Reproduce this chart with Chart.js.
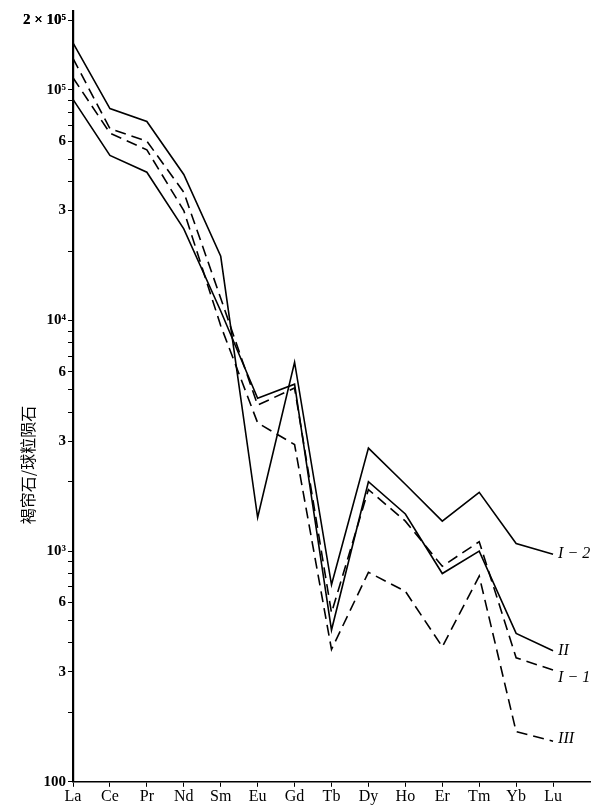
<!DOCTYPE html>
<html>
<head>
<meta charset="utf-8">
<script src="https://cdn.jsdelivr.net/npm/chart.js@4.4.1/dist/chart.umd.min.js"></script>
<style>
  html, body { margin: 0; padding: 0; background: #fff; }
  #wrap { width: 594px; height: 808px; position: relative; }
</style>
</head>
<body>
<div id="wrap"><canvas id="reeChart"></canvas></div>
<script>
// REE elements on the x axis
const elements = ["La", "Ce", "Pr", "Nd", "Sm", "Eu", "Gd", "Tb", "Dy", "Ho", "Er", "Tm", "Yb", "Lu"];

// allanite / chondrite
const seriesI2  = [160000, 83000, 73000, 43000, 19000, 1400, 6600, 715, 2800, 1950, 1350, 1800, 1080, 970];
const seriesII  = [91000, 52000, 44000, 25000, 11000, 4600, 5300, 455, 2000, 1450, 800, 1000, 440, 370];
const seriesI1  = [137000, 68000, 60000, 36000, 12500, 4300, 5100, 540, 1850, 1350, 860, 1100, 345, 305];
const seriesIII = [113000, 65000, 55000, 30000, 9500, 3600, 2900, 375, 810, 670, 385, 780, 165, 150];

const seriesNames = ["I − 2", "II", "I − 1", "III"];

// labelled ticks on the log axis
const yTickValues = [200000, 100000, 60000, 30000, 10000, 6000, 3000, 1000, 600, 300, 100];
const yTickLabels = ["2 × 10⁵", "10⁵", "6", "3", "10⁴", "6", "3", "10³", "6", "3", "100"];

const yTitle = "褐帘石/球粒陨石";

const serif = "'Liberation Serif', 'DejaVu Serif', serif";

// minor tick marks 1..9 per decade
const minorTicks = [];
for (let d = 100; d <= 100000; d *= 10) {
    for (let m = 1; m <= 9; m++) {
        if (d * m <= 200000) minorTicks.push(d * m);
    }
}
minorTicks.push(200000);

function tickLabel(v) {
    const i = yTickValues.findIndex(t => Math.abs(t - v) / t < 0.001);
    return i >= 0 ? yTickLabels[i] : "";
}

const lineStyle = (data, dashed) => ({
    data: data,
    borderColor: "#000",
    borderWidth: 1.6,
    borderDash: dashed ? [11, 6] : [],
    pointRadius: 0,
    fill: false,
    tension: 0
});

// series names beside the line ends and the rotated y title
const textPlugin = {
    id: "textPlugin",
    afterDraw(chart) {
        const ctx = chart.ctx;
        ctx.save();
        ctx.fillStyle = "#000";
        ctx.font = "italic 16px " + serif;
        ctx.textBaseline = "middle";
        ctx.textAlign = "left";
        const nudge = [0, 0, 8, -2];
        chart.data.datasets.forEach((ds, i) => {
            const pts = chart.getDatasetMeta(i).data;
            const last = pts[elements.length - 1];
            ctx.fillText(seriesNames[i], last.x + 5, last.y + nudge[i]);
        });

        ctx.font = "16px 'Noto Sans CJK SC', sans-serif";
        ctx.translate(28, 465);
        ctx.rotate(-Math.PI / 2);
        ctx.textAlign = "center";
        ctx.fillText(yTitle, 0, 0);
        ctx.restore();
    }
};

new Chart(document.getElementById("reeChart"), {
    type: "line",
    data: {
        labels: [...elements, ""],
        datasets: [
            lineStyle(seriesI2, false),
            lineStyle(seriesII, false),
            lineStyle(seriesI1, true),
            lineStyle(seriesIII, true)
        ]
    },
    options: {
        responsive: true,
        maintainAspectRatio: false,
        animation: false,
        layout: { padding: { top: 8, right: 4, left: 0, bottom: 2 } },
        plugins: {
            legend: { display: false },
            tooltip: { enabled: false }
        },
        scales: {
            x: {
                offset: false,
                grid: {
                    drawOnChartArea: false,
                    tickLength: 5,
                    tickColor: (c) => c.index === elements.length ? "rgba(0,0,0,0)" : "#000"
                },
                border: { color: "#000", width: 1.6 },
                ticks: {
                    color: "#000",
                    font: { family: serif, size: 16 },
                    padding: 0,
                    maxRotation: 0,
                    autoSkip: false
                }
            },
            y: {
                type: "logarithmic",
                min: 100,
                max: 220000,
                afterBuildTicks: (scale) => {
                    scale.ticks = minorTicks.map(v => ({ value: v }));
                },
                afterFit: (scale) => { scale.width = 73; },
                grid: {
                    drawOnChartArea: false,
                    tickLength: 5,
                    tickColor: "#000"
                },
                border: { color: "#000", width: 2.2 },
                ticks: {
                    color: "#000",
                    autoSkip: false,
                    font: { family: serif, size: 15, weight: "bold" },
                    padding: 2,
                    callback: (v) => tickLabel(v)
                }
            }
        }
    },
    plugins: [textPlugin]
});
</script>
</body>
</html>
